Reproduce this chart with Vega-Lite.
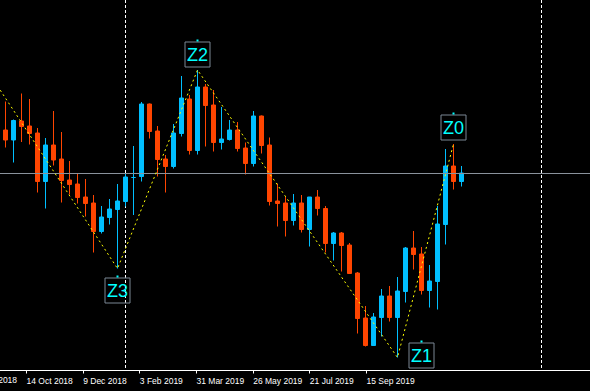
{
  "$schema": "https://vega.github.io/schema/vega-lite/v6.json",
  "width": 590,
  "height": 370,
  "padding": {"left": 0, "top": 0, "right": 0, "bottom": 21},
  "autosize": {"type": "none"},
  "background": "#000000",
  "config": {
    "view": {"stroke": null},
    "axis": {"grid": false}
  },
  "datasets": {
    "bars": [
      {"i":0,"o":1.1430,"h":1.1487,"l":1.1395,"c":1.1410},
      {"i":1,"o":1.1410,"h":1.1451,"l":1.1365,"c":1.1449},
      {"i":2,"o":1.1448,"h":1.1503,"l":1.1406,"c":1.1437},
      {"i":3,"o":1.1438,"h":1.1492,"l":1.1401,"c":1.1423},
      {"i":4,"o":1.1424,"h":1.1434,"l":1.1305,"c":1.1327},
      {"i":5,"o":1.1327,"h":1.1414,"l":1.1273,"c":1.1400},
      {"i":6,"o":1.1400,"h":1.1468,"l":1.1359,"c":1.1370},
      {"i":7,"o":1.1372,"h":1.1426,"l":1.1285,"c":1.1329},
      {"i":8,"o":1.1330,"h":1.1368,"l":1.1301,"c":1.1321},
      {"i":9,"o":1.1322,"h":1.1342,"l":1.1283,"c":1.1295},
      {"i":10,"o":1.1296,"h":1.1332,"l":1.1257,"c":1.1283},
      {"i":11,"o":1.1284,"h":1.1300,"l":1.1185,"c":1.1227},
      {"i":12,"o":1.1227,"h":1.1278,"l":1.1223,"c":1.1256},
      {"i":13,"o":1.1255,"h":1.1292,"l":1.1241,"c":1.1272},
      {"i":14,"o":1.1271,"h":1.1322,"l":1.1153,"c":1.1288},
      {"i":15,"o":1.1287,"h":1.1342,"l":1.1277,"c":1.1336},
      {"i":16,"o":1.1335,"h":1.1398,"l":1.1260,"c":1.1335},
      {"i":17,"o":1.1337,"h":1.1486,"l":1.1327,"c":1.1482},
      {"i":18,"o":1.1482,"h":1.1483,"l":1.1413,"c":1.1427},
      {"i":19,"o":1.1428,"h":1.1438,"l":1.1337,"c":1.1371},
      {"i":20,"o":1.1372,"h":1.1380,"l":1.1305,"c":1.1357},
      {"i":21,"o":1.1357,"h":1.1442,"l":1.1353,"c":1.1424},
      {"i":22,"o":1.1423,"h":1.1538,"l":1.1417,"c":1.1494},
      {"i":23,"o":1.1492,"h":1.1500,"l":1.1381,"c":1.1389},
      {"i":24,"o":1.1389,"h":1.1550,"l":1.1381,"c":1.1516},
      {"i":25,"o":1.1516,"h":1.1522,"l":1.1397,"c":1.1479},
      {"i":26,"o":1.1480,"h":1.1510,"l":1.1387,"c":1.1405},
      {"i":27,"o":1.1405,"h":1.1476,"l":1.1391,"c":1.1412},
      {"i":28,"o":1.1411,"h":1.1450,"l":1.1409,"c":1.1430},
      {"i":29,"o":1.1430,"h":1.1446,"l":1.1387,"c":1.1393},
      {"i":30,"o":1.1394,"h":1.1405,"l":1.1341,"c":1.1363},
      {"i":31,"o":1.1363,"h":1.1468,"l":1.1357,"c":1.1458},
      {"i":32,"o":1.1458,"h":1.1459,"l":1.1383,"c":1.1399},
      {"i":33,"o":1.1400,"h":1.1415,"l":1.1279,"c":1.1287},
      {"i":34,"o":1.1288,"h":1.1323,"l":1.1237,"c":1.1283},
      {"i":35,"o":1.1284,"h":1.1296,"l":1.1217,"c":1.1249},
      {"i":36,"o":1.1249,"h":1.1302,"l":1.1239,"c":1.1284},
      {"i":37,"o":1.1284,"h":1.1300,"l":1.1225,"c":1.1231},
      {"i":38,"o":1.1231,"h":1.1296,"l":1.1197,"c":1.1296},
      {"i":39,"o":1.1296,"h":1.1310,"l":1.1259,"c":1.1273},
      {"i":40,"o":1.1273,"h":1.1278,"l":1.1185,"c":1.1203},
      {"i":41,"o":1.1203,"h":1.1226,"l":1.1169,"c":1.1224},
      {"i":42,"o":1.1224,"h":1.1226,"l":1.1147,"c":1.1199},
      {"i":43,"o":1.1200,"h":1.1204,"l":1.1143,"c":1.1143},
      {"i":44,"o":1.1144,"h":1.1146,"l":1.1023,"c":1.1053},
      {"i":45,"o":1.1054,"h":1.1078,"l":1.0997,"c":1.0999},
      {"i":46,"o":1.0999,"h":1.1064,"l":1.0999,"c":1.1056},
      {"i":47,"o":1.1055,"h":1.1112,"l":1.1017,"c":1.1098},
      {"i":48,"o":1.1098,"h":1.1118,"l":1.1047,"c":1.1055},
      {"i":49,"o":1.1055,"h":1.1136,"l":1.0975,"c":1.1108},
      {"i":50,"o":1.1107,"h":1.1196,"l":1.1085,"c":1.1194},
      {"i":51,"o":1.1194,"h":1.1228,"l":1.1151,"c":1.1181},
      {"i":52,"o":1.1182,"h":1.1196,"l":1.1101,"c":1.1109},
      {"i":53,"o":1.1109,"h":1.1160,"l":1.1075,"c":1.1128},
      {"i":54,"o":1.1127,"h":1.1278,"l":1.1071,"c":1.1242},
      {"i":55,"o":1.1241,"h":1.1392,"l":1.1201,"c":1.1358},
      {"i":56,"o":1.1358,"h":1.1402,"l":1.1311,"c":1.1327},
      {"i":57,"o":1.1327,"h":1.1358,"l":1.1317,"c":1.1344}
    ],
    "zigzag": [
      {"i":-1,"p":1.1518},
      {"i":14,"p":1.1153},
      {"i":24,"p":1.1550},
      {"i":49,"p":1.0975},
      {"i":56,"p":1.1402}
    ],
    "labels": [
      {"label":"Z3","i":14,"p":1.1109},
      {"label":"Z2","i":24,"p":1.1581},
      {"label":"Z1","i":52,"p":1.0979},
      {"label":"Z0","i":56,"p":1.1435}
    ],
    "separators": [{"i":15},{"i":67}],
    "bid": [{"p":1.1343}],
    "firstLabel": [{"i":-4.5208,"text":"19 Aug 2018"}]
  },
  "encoding": {
    "x": {
      "field": "i",
      "type": "quantitative",
      "scale": {"domain": [-0.6875, 73.0625], "nice": false, "zero": false, "padding": 0},
      "axis": {
        "title": null,
        "values": [2.5625, 9.6458, 16.7292, 23.8125, 30.8958, 37.9792, 45.0625],
        "labelExpr": "['19 Aug 2018','14 Oct 2018','9 Dec 2018','3 Feb 2019','31 Mar 2019','26 May 2019','21 Jul 2019','15 Sep 2019'][round((datum.value + 4.5208) / 7.0833)]",
        "domain": true,
        "domainColor": "#FFFFFF",
        "domainWidth": 1,
        "domainOpacity": 1,
        "tickColor": "#FFFFFF",
        "tickSize": 3,
        "labelColor": "#FFFFFF",
        "labelFont": "Liberation Sans",
        "labelFontSize": 8.5,
        "labelAlign": "left",
        "labelBaseline": "top",
        "labelPadding": 3,
        "labelFlush": false,
        "labelOverlap": false,
        "labelBound": false
      }
    }
  },
  "layer": [
    {
      "data": {"name": "separators"},
      "mark": {"type": "rule", "color": "#FFFFFF", "strokeWidth": 1, "strokeDash": [3, 2]},
      "encoding": {}
    },
    {
      "data": {"name": "bars"},
      "mark": {"type": "rule", "strokeWidth": 1},
      "encoding": {
        "y": {"field": "l", "type": "quantitative", "scale": {"domain": [1.0950, 1.1690], "nice": false, "zero": false, "padding": 0}, "axis": null},
        "y2": {"field": "h"},
        "color": {"condition": {"test": "datum.c >= datum.o", "value": "#00BFFF"}, "value": "#FF4500"}
      }
    },
    {
      "data": {"name": "bars"},
      "mark": {"type": "bar", "width": 4, "strokeWidth": 1},
      "encoding": {
        "y": {"field": "o", "type": "quantitative", "scale": {"domain": [1.0950, 1.1690], "nice": false, "zero": false, "padding": 0}, "axis": null},
        "y2": {"field": "c"},
        "color": {"condition": {"test": "datum.c >= datum.o", "value": "#00BFFF"}, "value": "#FF4500"},
        "stroke": {"condition": {"test": "datum.c >= datum.o", "value": "#00BFFF"}, "value": "#FF4500"}
      }
    },
    {
      "data": {"name": "bid"},
      "mark": {"type": "rule", "color": "#8A929C", "strokeWidth": 1},
      "encoding": {
        "x": null,
        "y": {"field": "p", "type": "quantitative", "scale": {"domain": [1.0950, 1.1690], "nice": false, "zero": false, "padding": 0}, "axis": null}
      }
    },
    {
      "data": {"name": "bid"},
      "mark": {"type": "rule", "color": "#FFFFFF", "strokeWidth": 1},
      "encoding": {
        "x": null,
        "y": {"datum": 1.0949, "type": "quantitative", "scale": {"domain": [1.0950, 1.1690], "nice": false, "zero": false, "padding": 0}, "axis": null}
      }
    },
    {
      "data": {"name": "zigzag"},
      "mark": {"type": "line", "color": "#FFFF00", "strokeWidth": 1, "strokeDash": [2, 3]},
      "encoding": {
        "y": {"field": "p", "type": "quantitative", "scale": {"domain": [1.0950, 1.1690], "nice": false, "zero": false, "padding": 0}, "axis": null}
      }
    },
    {
      "data": {"name": "labels"},
      "mark": {"type": "point", "shape": "square", "size": 625, "filled": false, "stroke": "#7A8794", "strokeWidth": 1, "opacity": 1},
      "encoding": {
        "y": {"field": "p", "type": "quantitative", "scale": {"domain": [1.0950, 1.1690], "nice": false, "zero": false, "padding": 0}, "axis": null}
      }
    },
    {
      "data": {"name": "labels"},
      "mark": {"type": "point", "shape": "square", "size": 4, "filled": true, "color": "#00FFFF", "opacity": 1, "yOffset": -14},
      "encoding": {
        "y": {"field": "p", "type": "quantitative", "scale": {"domain": [1.0950, 1.1690], "nice": false, "zero": false, "padding": 0}, "axis": null}
      }
    },
    {
      "data": {"name": "labels"},
      "mark": {"type": "text", "font": "Liberation Sans", "fontSize": 18, "color": "#00FFFF", "align": "center", "baseline": "alphabetic", "dy": 6},
      "encoding": {
        "y": {"field": "p", "type": "quantitative", "scale": {"domain": [1.0950, 1.1690], "nice": false, "zero": false, "padding": 0}, "axis": null},
        "text": {"field": "label"}
      }
    },
    {
      "data": {"name": "firstLabel"},
      "mark": {"type": "text", "font": "Liberation Sans", "fontSize": 8.5, "color": "#FFFFFF", "align": "left", "baseline": "top", "clip": false},
      "encoding": {
        "y": {"datum": 1.0938, "type": "quantitative", "scale": {"domain": [1.0950, 1.1690], "nice": false, "zero": false, "padding": 0}, "axis": null},
        "text": {"field": "text"}
      }
    }
  ]
}
